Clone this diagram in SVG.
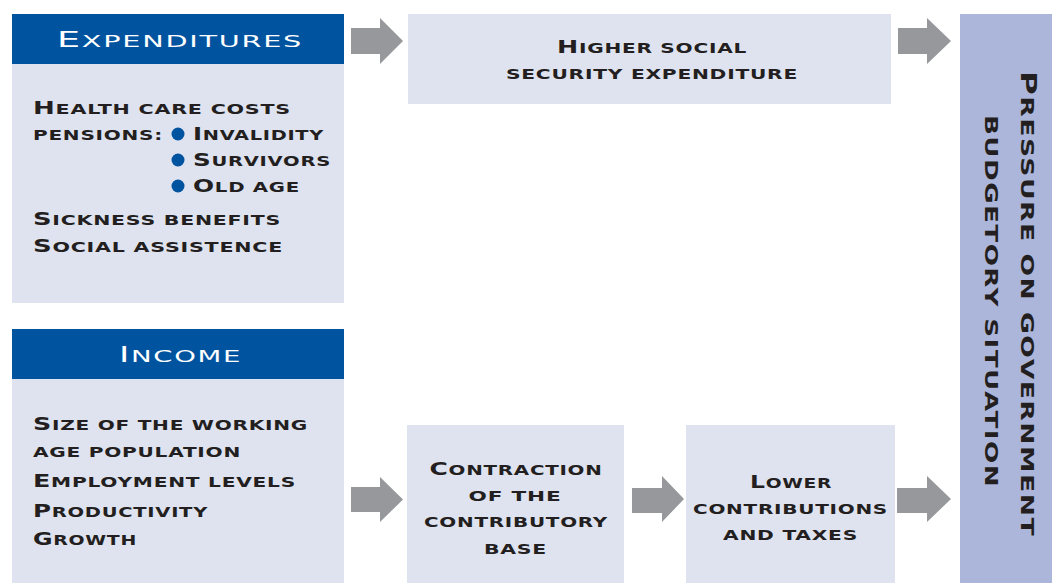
<svg xmlns="http://www.w3.org/2000/svg" width="1052" height="583" viewBox="0 0 1052 583">
<style>
.hdr{fill:#00539f}
.box{fill:#dfe3f0}
.side{fill:#acb6da}
.arr{fill:#97989b}
.t{font-family:"DejaVu Sans",sans-serif;font-weight:bold;fill:#231f20;font-size:13.5px;letter-spacing:0.5px}
.t .k{font-size:17px}
.h{font-family:"DejaVu Sans",sans-serif;fill:#ffffff;font-size:16.5px;letter-spacing:1px;text-anchor:middle}
.h .k{font-size:21px}
.c{text-anchor:middle}
.v{font-family:"DejaVu Sans",sans-serif;font-weight:bold;fill:#231f20;font-size:18px;letter-spacing:1px;text-anchor:middle}
.v .k{font-size:22px}
.dot{fill:#00539f}
</style>
<rect width="1052" height="583" fill="#ffffff"/>
<g id="expenditures">
<rect class="hdr" x="12" y="14" width="332" height="50"/>
<rect class="box" x="12" y="64" width="332" height="239"/>
<text class="h" x="180" y="47" textLength="246" lengthAdjust="spacingAndGlyphs"><tspan class="k">E</tspan>XPENDITURES</text>
<text class="t" x="33" y="114" textLength="258" lengthAdjust="spacingAndGlyphs"><tspan class="k">H</tspan>EALTH CARE COSTS</text>
<text class="t" x="33" y="140" textLength="130" lengthAdjust="spacingAndGlyphs">PENSIONS:</text>
<circle class="dot" cx="178" cy="134" r="6.5"/>
<text class="t" x="193" y="140" textLength="131" lengthAdjust="spacingAndGlyphs"><tspan class="k">I</tspan>NVALIDITY</text>
<circle class="dot" cx="178" cy="160" r="6.5"/>
<text class="t" x="193" y="166" textLength="138" lengthAdjust="spacingAndGlyphs"><tspan class="k">S</tspan>URVIVORS</text>
<circle class="dot" cx="178" cy="186" r="6.5"/>
<text class="t" x="193" y="192" textLength="107" lengthAdjust="spacingAndGlyphs"><tspan class="k">O</tspan>LD AGE</text>
<text class="t" x="33" y="225" textLength="248" lengthAdjust="spacingAndGlyphs"><tspan class="k">S</tspan>ICKNESS BENEFITS</text>
<text class="t" x="33" y="252" textLength="250" lengthAdjust="spacingAndGlyphs"><tspan class="k">S</tspan>OCIAL ASSISTENCE</text>
</g>
<g id="income">
<rect class="hdr" x="12" y="329" width="332" height="50"/>
<rect class="box" x="12" y="379" width="332" height="204"/>
<text class="h" x="180.5" y="362" textLength="123" lengthAdjust="spacingAndGlyphs"><tspan class="k">I</tspan>NCOME</text>
<text class="t" x="33" y="430" textLength="275" lengthAdjust="spacingAndGlyphs"><tspan class="k">S</tspan>IZE OF THE WORKING</text>
<text class="t" x="33" y="457" textLength="208" lengthAdjust="spacingAndGlyphs">AGE POPULATION</text>
<text class="t" x="33" y="487" textLength="263" lengthAdjust="spacingAndGlyphs"><tspan class="k">E</tspan>MPLOYMENT LEVELS</text>
<text class="t" x="33" y="517" textLength="175" lengthAdjust="spacingAndGlyphs"><tspan class="k">P</tspan>RODUCTIVITY</text>
<text class="t" x="33" y="545" textLength="104" lengthAdjust="spacingAndGlyphs"><tspan class="k">G</tspan>ROWTH</text>
</g>
<g id="higher">
<rect class="box" x="408" y="14" width="483" height="90"/>
<text class="t c" x="652" y="53" textLength="190" lengthAdjust="spacingAndGlyphs"><tspan class="k">H</tspan>IGHER SOCIAL</text>
<text class="t c" x="652" y="79" textLength="292" lengthAdjust="spacingAndGlyphs">SECURITY EXPENDITURE</text>
</g>
<g id="contraction">
<rect class="box" x="407" y="425" width="217" height="158"/>
<text class="t c" x="516" y="475" textLength="173" lengthAdjust="spacingAndGlyphs"><tspan class="k">C</tspan>ONTRACTION</text>
<text class="t c" x="515" y="501" textLength="93" lengthAdjust="spacingAndGlyphs">OF THE</text>
<text class="t c" x="516" y="527" textLength="184" lengthAdjust="spacingAndGlyphs">CONTRIBUTORY</text>
<text class="t c" x="515.5" y="554" textLength="63" lengthAdjust="spacingAndGlyphs">BASE</text>
</g>
<g id="lower">
<rect class="box" x="686" y="425" width="209" height="158"/>
<text class="t c" x="791" y="488" textLength="82" lengthAdjust="spacingAndGlyphs"><tspan class="k">L</tspan>OWER</text>
<text class="t c" x="790.5" y="514" textLength="195" lengthAdjust="spacingAndGlyphs">CONTRIBUTIONS</text>
<text class="t c" x="790.5" y="540" textLength="135" lengthAdjust="spacingAndGlyphs">AND TAXES</text>
</g>
<g id="pressure">
<rect class="side" x="960" y="14" width="92" height="569"/>
<text class="v" transform="translate(1021,304) rotate(90)" textLength="466" lengthAdjust="spacingAndGlyphs"><tspan class="k">P</tspan>RESSURE ON GOVERNMENT</text>
<text class="v" transform="translate(985,301.5) rotate(90)" textLength="373" lengthAdjust="spacingAndGlyphs">BUDGETORY SITUATION</text>
</g>
<g id="connectors">
<polygon class="arr" points="351,28 380,28 380,18 403,41 380,64 380,54 351,54"/>
<polygon class="arr" points="898,28 927,28 927,18 951,41 927,64 927,54 898,54"/>
<polygon class="arr" points="351,487 380,487 380,477 403,499.5 380,522 380,512 351,512"/>
<polygon class="arr" points="632,488 662,488 662,476 684,499 662,522 662,513 632,513"/>
<polygon class="arr" points="897,488 927,488 927,476 951,499 927,522 927,513 897,513"/>
</g>
</svg>
